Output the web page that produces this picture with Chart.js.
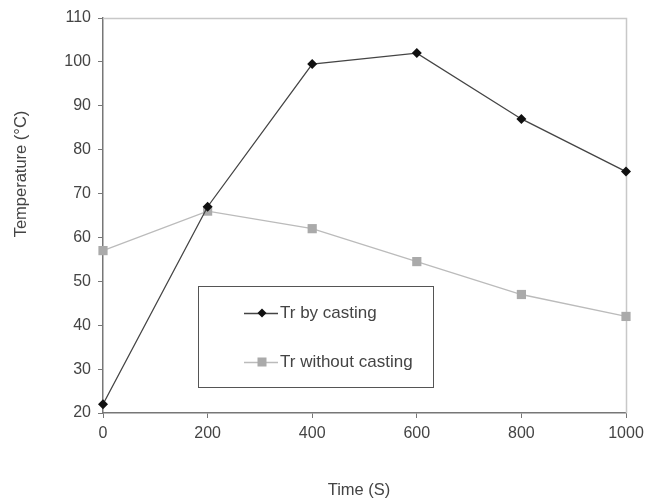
<!DOCTYPE html>
<html>
<head>
<meta charset="utf-8">
<script src="https://cdn.jsdelivr.net/npm/chart.js@4.4.1/dist/chart.umd.min.js"></script>
<style>
  html, body { margin: 0; padding: 0; background: #fff; }
  canvas { display: block; }
</style>
</head>
<body>
<canvas id="chart" width="646" height="500"></canvas>
<script>
// Dados
const times = [0, 200, 400, 600, 800, 1000];
const withCasting = [22, 67, 99.5, 102, 87, 75];
const withoutCasting = [57, 66, 62, 54.5, 47, 42];
const yTicks = [20, 30, 40, 50, 60, 70, 80, 90, 100, 110];
const xTicks = [0, 200, 400, 600, 800, 1000];
const xTitle = 'Time (S)';
const yTitle = 'Temperature (°C)';

const FONT = 'Liberation Sans, Arial, sans-serif';
const TEXT = '#444';

// Borda clara, títulos dos eixos e caixa de legenda dentro da área
const frameAndLegend = {
  id: 'frameAndLegend',
  beforeDatasetsDraw(chart) {
    const { ctx, chartArea: a } = chart;
    ctx.save();
    ctx.strokeStyle = '#c8c8c8';
    ctx.lineWidth = 1.5;
    ctx.beginPath();
    ctx.moveTo(a.left, a.top + 0.5);
    ctx.lineTo(a.right + 0.5, a.top + 0.5);
    ctx.lineTo(a.right + 0.5, a.bottom);
    ctx.stroke();

    // títulos dos eixos
    ctx.fillStyle = TEXT;
    ctx.font = '16.5px ' + FONT;
    ctx.textAlign = 'center';
    ctx.textBaseline = 'middle';
    ctx.fillText(xTitle, 359, 490);
    ctx.translate(21, 174);
    ctx.rotate(-Math.PI / 2);
    ctx.fillText(yTitle, 0, 0);
    ctx.restore();
  },
  afterDatasetsDraw(chart) {
    const { ctx, chartArea: a } = chart;
    ctx.save();
    // caixa da legenda
    const bx = a.left + 95, by = a.top + 268, bw = 235, bh = 101;
    ctx.fillStyle = '#fff';
    ctx.fillRect(bx, by, bw, bh);
    ctx.strokeStyle = '#555';
    ctx.lineWidth = 1;
    ctx.strokeRect(bx + 0.5, by + 0.5, bw, bh);

    const rows = [by + 27, by + 76];
    chart.data.datasets.forEach((ds, i) => {
      const y = rows[i];
      ctx.strokeStyle = ds.borderColor;
      ctx.lineWidth = 1.3;
      ctx.beginPath();
      ctx.moveTo(bx + 46, y + 0.5);
      ctx.lineTo(bx + 80, y + 0.5);
      ctx.stroke();
      ctx.fillStyle = ds.pointBackgroundColor;
      const mx = bx + 64;
      if (ds.pointStyle === 'rectRot') {
        ctx.beginPath();
        ctx.moveTo(mx, y - 4.5);
        ctx.lineTo(mx + 4.5, y);
        ctx.lineTo(mx, y + 4.5);
        ctx.lineTo(mx - 4.5, y);
        ctx.closePath();
        ctx.fill();
      } else {
        ctx.fillRect(mx - 4.5, y - 4.5, 9, 9);
      }
      ctx.fillStyle = TEXT;
      ctx.font = '17px ' + FONT;
      ctx.textAlign = 'left';
      ctx.textBaseline = 'middle';
      ctx.fillText(ds.label, bx + 82, y);
    });
    ctx.restore();
  }
};

new Chart(document.getElementById('chart'), {
  type: 'line',
  data: {
    labels: times,
    datasets: [
      {
        label: 'Tr by casting',
        data: times.map((t, i) => ({ x: t, y: withCasting[i] })),
        borderColor: '#444',
        borderWidth: 1.3,
        pointStyle: 'rectRot',
        pointRadius: 5,
        pointBackgroundColor: '#111',
        pointBorderColor: '#111',
        pointBorderWidth: 0,
        clip: false,
        tension: 0
      },
      {
        label: 'Tr without casting',
        data: times.map((t, i) => ({ x: t, y: withoutCasting[i] })),
        borderColor: '#bbb',
        borderWidth: 1.3,
        pointStyle: 'rect',
        pointRadius: 6.5,
        pointBackgroundColor: '#aaa',
        pointBorderColor: '#aaa',
        pointBorderWidth: 0,
        clip: false,
        tension: 0
      }
    ]
  },
  options: {
    responsive: false,
    animation: false,
    maintainAspectRatio: false,
    layout: { padding: { top: 18, right: 20, left: 0, bottom: 0 } },
    plugins: {
      legend: { display: false },
      tooltip: { enabled: false }
    },
    scales: {
      x: {
        type: 'linear',
        min: 0,
        max: 1000,
        afterBuildTicks: s => { s.ticks = xTicks.map(v => ({ value: v })); },
        afterFit: s => { s.height = 87; s.paddingLeft = 0; s.paddingRight = 0; },
        border: { color: '#777', width: 1.5 },
        grid: { drawOnChartArea: false, drawTicks: true, tickLength: 5, color: '#777' },
        ticks: { color: TEXT, font: { family: FONT, size: 16 }, padding: 6, maxRotation: 0, autoSkip: false, callback: v => String(v) }
      },
      y: {
        min: 20,
        max: 110,
        afterBuildTicks: s => { s.ticks = yTicks.map(v => ({ value: v })); },
        afterFit: s => { s.width = 103; s.paddingTop = 0; s.paddingBottom = 0; },
        border: { color: '#777', width: 1.5 },
        grid: { drawOnChartArea: false, drawTicks: true, tickLength: 5, color: '#777' },
        ticks: { color: TEXT, font: { family: FONT, size: 16 }, padding: 7, autoSkip: false, callback: v => String(v) }
      }
    }
  },
  plugins: [frameAndLegend]
});
</script>
</body>
</html>
